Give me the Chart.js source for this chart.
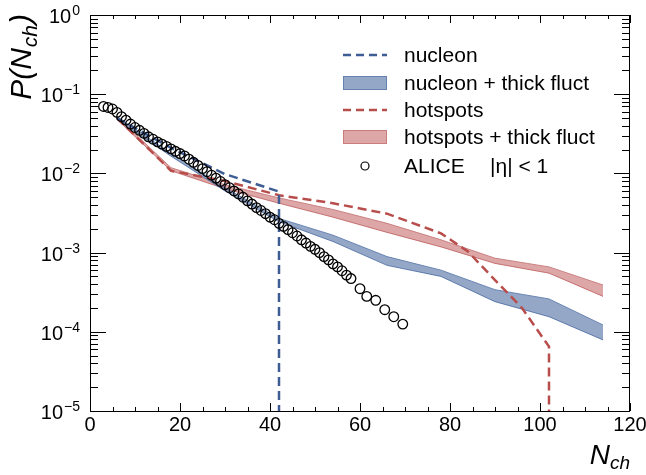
<!DOCTYPE html>
<html>
<head>
<meta charset="utf-8">
<title>P(Nch)</title>
<script src="https://cdn.jsdelivr.net/npm/chart.js@4.4.1/dist/chart.umd.min.js"></script>
<style>
    html, body { margin: 0; padding: 0; background: #ffffff; }
    #wrap { width: 646px; height: 475px; }
</style>
</head>
<body>
<div id="wrap"><canvas id="multChart" width="646" height="475"></canvas></div>
<script>
// ALICE |eta| < 1 multiplicity distribution
const aliceN = [3, 4, 5, 6, 7, 8, 9, 10, 11, 12, 13, 14, 15, 16, 17, 18, 19, 20,
    21, 22, 23, 24, 25, 26, 27, 28, 29, 30, 31, 32, 33, 34, 35, 36, 37, 38, 39, 40,
    41, 42, 43, 44, 45, 46, 47, 48, 49, 50, 51, 52, 53, 54, 55, 56, 57, 58,
    60, 61.5, 63.5, 65.5, 67.5, 69.5];
const aliceP = [0.070, 0.068, 0.065, 0.059, 0.052, 0.047, 0.042, 0.038, 0.035, 0.032,
    0.029, 0.027, 0.025, 0.0234, 0.0219, 0.0204, 0.019, 0.0178, 0.0166, 0.0151,
    0.0138, 0.0126, 0.0115, 0.0105, 0.0095, 0.0087, 0.0079, 0.0072, 0.0066, 0.0060,
    0.0055, 0.0050, 0.0045, 0.0041, 0.0037, 0.0034, 0.0031, 0.0028, 0.0026, 0.00234,
    0.00214, 0.00195, 0.00178, 0.00162, 0.00145, 0.00132, 0.0012, 0.0011, 0.0010, 0.00089,
    0.00081, 0.00072, 0.00066, 0.00059, 0.00052, 0.00047,
    0.00035, 0.00028, 0.00025, 0.00019, 0.000155, 0.000125];

// nucleon (dashed) - drops to zero after the last filled bin
const nucleonN = [6, 18, 30, 42, 42];
const nucleonP = [0.05, 0.021, 0.0098, 0.0059, 1e-7];

// thick fluctuation bands share the same bins
const bandN = [6, 18, 30, 42, 54, 66, 78, 90, 102, 114];
const nucleonHi = [0.052, 0.018, 0.0066, 0.0027, 0.00166, 0.00089, 0.0006, 0.00034, 0.00026, 0.000122];
const nucleonLo = [0.048, 0.0165, 0.0060, 0.00245, 0.00138, 0.00069, 0.0005, 0.00024, 0.000155, 0.000079];
const hotspotHi = [0.052, 0.0118, 0.0072, 0.0049, 0.0035, 0.00234, 0.00145, 0.00085, 0.00066, 0.00039];
const hotspotLo = [0.048, 0.0108, 0.0064, 0.0042, 0.0028, 0.0018, 0.00118, 0.00073, 0.00055, 0.00028];

// hotspots (dashed)
const hotspotN = [6, 18, 30, 42, 54, 66, 78, 84, 90, 96, 102, 102];
const hotspotP = [0.05, 0.0108, 0.008, 0.0053, 0.0042, 0.0031, 0.00175, 0.00103, 0.00045, 0.0002, 0.000065, 1e-7];

// axis ticks
const xMajorTicks = [0, 20, 40, 60, 80, 100, 120];
const yDecades = [0, -1, -2, -3, -4, -5];

const BLUE = 'rgb(62, 93, 148)';
const BLUE_FILL = 'rgba(62, 95, 152, 0.55)';
const BLUE_EDGE = 'rgba(95, 125, 175, 0.9)';
const RED = 'rgb(184, 78, 76)';
const RED_FILL = 'rgba(184, 72, 72, 0.48)';
const RED_EDGE = 'rgba(200, 120, 120, 0.9)';
const FONT = '"Liberation Sans", Arial, Helvetica, sans-serif';

function pts(xs, ys) {
    return xs.map(function(x, i) { return { x: x, y: ys[i] }; });
}

document.addEventListener('DOMContentLoaded', function() {
    const ctx = document.getElementById('multChart').getContext('2d');

    // frame, inward ticks, tick labels, titles and legend in ROOT style
    const rootFrame = {
        id: 'rootFrame',
        afterDraw: function(chart) {
            const c = chart.ctx;
            const area = chart.chartArea;
            const xs = chart.scales.x;
            const ys = chart.scales.y;
            c.save();
            c.strokeStyle = '#000';
            c.fillStyle = '#000';
            c.lineWidth = 1;

            // frame
            c.strokeRect(area.left + 0.5, area.top + 0.5, area.right - area.left - 1, area.bottom - area.top);

            // x ticks, bottom and top
            c.beginPath();
            for (let v = 0; v <= 120; v += 5) {
                const px = Math.round(xs.getPixelForValue(v)) + 0.5;
                const len = (v % 20 === 0) ? 8 : 4;
                c.moveTo(px, area.bottom);
                c.lineTo(px, area.bottom - len);
                c.moveTo(px, area.top);
                c.lineTo(px, area.top + len);
            }
            // y ticks, left and right
            for (let d = -5; d <= 0; d++) {
                for (let m = 1; m <= 9; m++) {
                    if (d === 0 && m > 1) break;
                    const py = Math.round(ys.getPixelForValue(m * Math.pow(10, d))) + 0.5;
                    const len = (m === 1) ? 16 : 8;
                    c.moveTo(area.left, py);
                    c.lineTo(area.left + len, py);
                    c.moveTo(area.right, py);
                    c.lineTo(area.right - len, py);
                }
            }
            c.stroke();

            // x tick labels
            c.font = '20px ' + FONT;
            c.textAlign = 'center';
            c.textBaseline = 'alphabetic';
            xMajorTicks.forEach(function(v) {
                c.fillText(String(v), xs.getPixelForValue(v), area.bottom + 20);
            });

            // y tick labels 10^n
            yDecades.forEach(function(d) {
                const py = ys.getPixelForValue(Math.pow(10, d));
                const exp = d === 0 ? '0' : '\u2212' + String(-d);
                c.font = '14px ' + FONT;
                const ew = c.measureText(exp).width;
                c.textAlign = 'left';
                c.fillText(exp, 80 - ew, py);
                c.font = '20px ' + FONT;
                c.textAlign = 'right';
                c.fillText('10', 80 - ew - 1, py + 8);
            });

            // x title N_ch
            c.textAlign = 'left';
            c.font = 'italic 19px ' + FONT;
            const subW = c.measureText('ch').width;
            c.fillText('ch', area.right - subW, 469);
            c.font = 'italic 28px ' + FONT;
            const nW = c.measureText('N').width;
            c.fillText('N', area.right - subW - nW, 464);

            // y title P(N_ch), rotated, ending at the top of the axis
            c.save();
            c.translate(31, area.top - 1);
            c.rotate(-Math.PI / 2);
            c.font = 'italic 30px ' + FONT;
            const w1 = c.measureText('P(N').width;
            const w3 = c.measureText(')').width;
            c.font = 'italic 21px ' + FONT;
            const w2 = c.measureText('ch').width;
            let tx = -(w1 + w2 + w3 + 2);
            c.font = 'italic 30px ' + FONT;
            c.fillText('P(N', tx, 0);
            c.font = 'italic 21px ' + FONT;
            c.fillText('ch', tx + w1 + 1, 6);
            c.font = 'italic 30px ' + FONT;
            c.fillText(')', tx + w1 + w2 + 2, 0);
            c.restore();

            // legend
            const lx0 = 343, lx1 = 387, tx0 = 404;
            const rows = [55, 83, 110, 137, 166];
            c.font = '21px ' + FONT;
            c.textAlign = 'left';
            c.lineWidth = 2.5;

            c.setLineDash([8, 5]);
            c.strokeStyle = BLUE;
            c.beginPath(); c.moveTo(lx0, rows[0]); c.lineTo(lx1, rows[0]); c.stroke();
            c.strokeStyle = RED;
            c.beginPath(); c.moveTo(lx0, rows[2]); c.lineTo(lx1, rows[2]); c.stroke();
            c.setLineDash([]);

            c.lineWidth = 1;
            c.fillStyle = BLUE_FILL;
            c.fillRect(lx0, rows[1] - 7, lx1 - lx0, 14);
            c.strokeStyle = BLUE_EDGE;
            c.strokeRect(lx0 + 0.5, rows[1] - 6.5, lx1 - lx0 - 1, 13);
            c.fillStyle = RED_FILL;
            c.fillRect(lx0, rows[3] - 7, lx1 - lx0, 14);
            c.strokeStyle = RED_EDGE;
            c.strokeRect(lx0 + 0.5, rows[3] - 6.5, lx1 - lx0 - 1, 13);

            c.strokeStyle = '#000';
            c.lineWidth = 1.2;
            c.beginPath();
            c.arc(365, rows[4], 4, 0, Math.PI * 2);
            c.stroke();

            c.fillStyle = '#000';
            c.fillText('nucleon', tx0, rows[0] + 7);
            c.fillText('nucleon + thick fluct', tx0, rows[1] + 7);
            c.fillText('hotspots', tx0, rows[2] + 7);
            c.fillText('hotspots + thick fluct', tx0, rows[3] + 7);
            c.fillText('ALICE', tx0, rows[4] + 7);
            c.fillText('|\u03b7| < 1', 490, rows[4] + 7);
            c.restore();
        }
    };

    new Chart(ctx, {
        type: 'line',
        data: {
            datasets: [
                {
                    label: 'ALICE |\u03b7| < 1',
                    data: pts(aliceN, aliceP),
                    showLine: false,
                    pointRadius: 4.8,
                    pointBorderWidth: 1.3,
                    pointBorderColor: '#000',
                    pointBackgroundColor: 'rgba(0,0,0,0)',
                    order: 0
                },
                {
                    label: 'nucleon',
                    data: pts(nucleonN, nucleonP),
                    borderColor: BLUE,
                    borderWidth: 2.5,
                    borderDash: [9, 5],
                    pointRadius: 0,
                    fill: false,
                    order: 1
                },
                {
                    label: 'hotspots',
                    data: pts(hotspotN, hotspotP),
                    borderColor: RED,
                    borderWidth: 2.5,
                    borderDash: [9, 5],
                    pointRadius: 0,
                    fill: false,
                    order: 1
                },
                {
                    label: 'nucleon + thick fluct',
                    data: pts(bandN, nucleonHi),
                    borderColor: BLUE_EDGE,
                    borderWidth: 1,
                    backgroundColor: BLUE_FILL,
                    pointRadius: 0,
                    fill: '+1',
                    order: 2
                },
                {
                    label: 'nucleon lo',
                    data: pts(bandN, nucleonLo),
                    borderColor: BLUE_EDGE,
                    borderWidth: 1,
                    pointRadius: 0,
                    fill: false,
                    order: 2
                },
                {
                    label: 'hotspots + thick fluct',
                    data: pts(bandN, hotspotHi),
                    borderColor: RED_EDGE,
                    borderWidth: 1,
                    backgroundColor: RED_FILL,
                    pointRadius: 0,
                    fill: '+1',
                    order: 3
                },
                {
                    label: 'hotspots lo',
                    data: pts(bandN, hotspotLo),
                    borderColor: RED_EDGE,
                    borderWidth: 1,
                    pointRadius: 0,
                    fill: false,
                    order: 3
                }
            ]
        },
        options: {
            responsive: false,
            animation: false,
            events: [],
            layout: {
                padding: { left: 90, right: 16, top: 15, bottom: 64 }
            },
            plugins: {
                legend: { display: false },
                tooltip: { enabled: false }
            },
            elements: {
                line: { tension: 0 }
            },
            scales: {
                x: {
                    type: 'linear',
                    min: 0,
                    max: 120,
                    display: false
                },
                y: {
                    type: 'logarithmic',
                    min: 1e-5,
                    max: 1,
                    display: false
                }
            }
        },
        plugins: [rootFrame]
    });
});
</script>
</body>
</html>
